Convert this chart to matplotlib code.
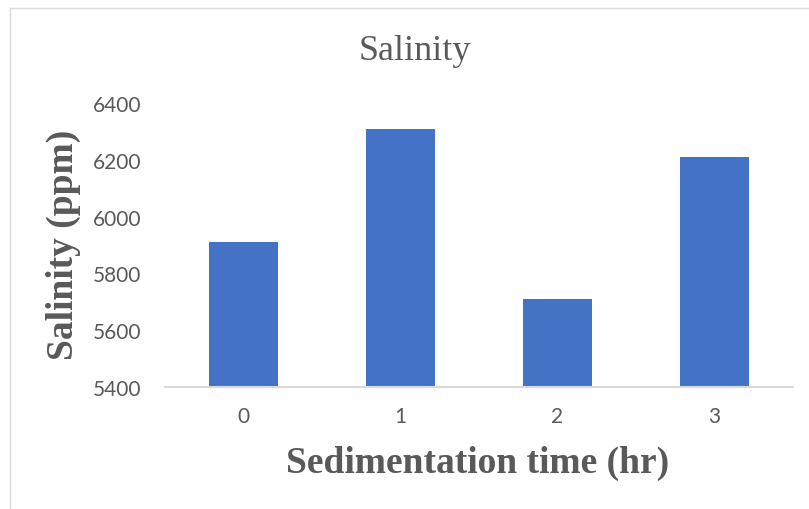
import matplotlib
matplotlib.use("Agg")
import matplotlib.pyplot as plt

# Salinity measured after each sedimentation period
times = ["0", "1", "2", "3"]
salinity = [5910, 6310, 5710, 6210]
y_ticks = [5400, 5600, 5800, 6000, 6200, 6400]

BAR_COLOR = "#4472C4"
TEXT_GRAY = "#595959"
GRID_GRAY = "#D9D9D9"

fig = plt.figure(figsize=(8.09, 5.10), dpi=100)
W, H = 809, 510
ax = fig.add_axes([165 / W, 1 - 388 / H, (793 - 165) / W, (388 - 104) / H])

x = list(range(len(times)))
ax.bar(x, [v - y_ticks[0] for v in salinity], bottom=y_ticks[0], width=0.435,
       color=BAR_COLOR, edgecolor="none", zorder=3)

ax.set_xlim(-0.5, len(times) - 0.5)
ax.set_ylim(y_ticks[0], y_ticks[-1])
ax.set_yticks(y_ticks)
ax.set_xticks(x)
ax.set_xticklabels(times)

for s in ["top", "right", "left"]:
    ax.spines[s].set_visible(False)
ax.spines["bottom"].set_color(GRID_GRAY)
ax.spines["bottom"].set_linewidth(1.5)
ax.spines["bottom"].set_zorder(4)

ax.tick_params(axis="both", length=0, labelsize=15, labelcolor=TEXT_GRAY)
ax.tick_params(axis="y", pad=17)
ax.tick_params(axis="x", pad=14)
for lab in ax.get_xticklabels() + ax.get_yticklabels():
    lab.set_family("Lato")

fig.text(415 / W, 1 - 51 / H, "Salinity", ha="center", va="center",
         fontsize=26, family="Liberation Serif", color=TEXT_GRAY)
fig.text(478 / W, 1 - 463 / H, "Sedimentation time (hr)", ha="center", va="center",
         fontsize=27, fontweight="bold", family="Liberation Serif", color=TEXT_GRAY)
fig.text(63 / W, 1 - 245 / H, "Salinity (ppm)", ha="center", va="center",
         rotation=90, fontsize=27, fontweight="bold", family="Liberation Serif",
         color=TEXT_GRAY)

# chart frame (only top and left edges fall within the image)
fig.add_artist(plt.Line2D([9.5 / W, 1], [1 - 8.5 / H, 1 - 8.5 / H],
                          transform=fig.transFigure, color=GRID_GRAY, lw=1))
fig.add_artist(plt.Line2D([9.5 / W, 9.5 / W], [1 - 8.5 / H, 0],
                          transform=fig.transFigure, color=GRID_GRAY, lw=1))

fig.savefig("out.png", dpi=100, facecolor="white")
